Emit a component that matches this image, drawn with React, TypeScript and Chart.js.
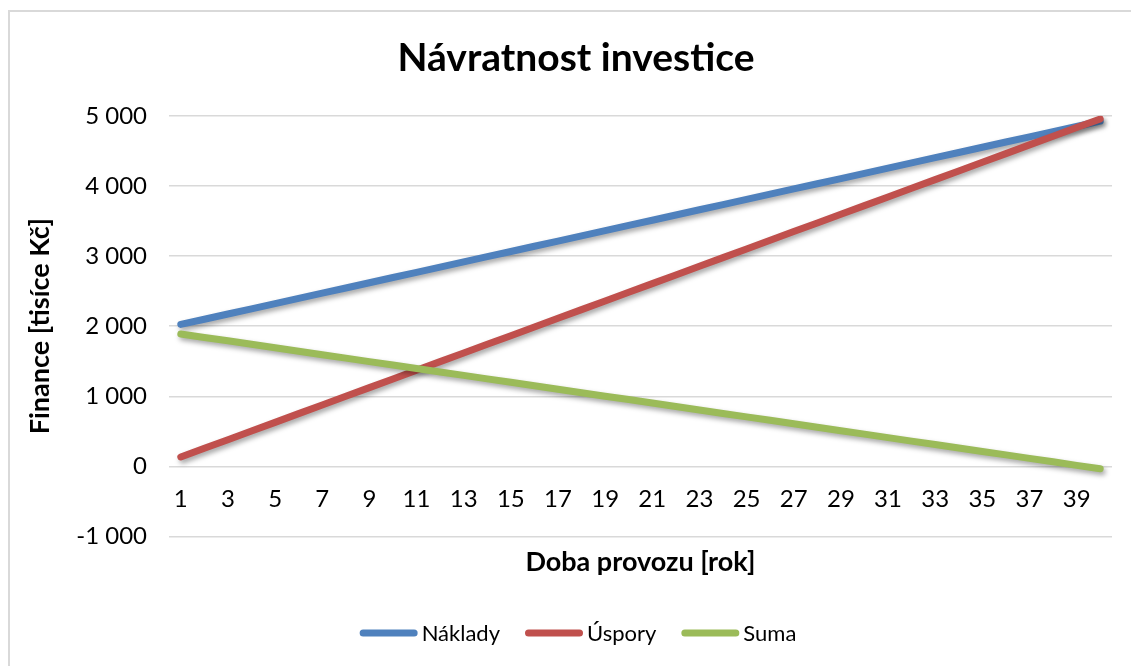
import React, { useEffect, useRef } from "react";
import { Chart, registerables } from "chart.js";

Chart.register(...registerables);

const years: string[] = [
  "1","2","3","4","5","6","7","8","9","10",
  "11","12","13","14","15","16","17","18","19","20",
  "21","22","23","24","25","26","27","28","29","30",
  "31","32","33","34","35","36","37","38","39","40",
];

const naklady: number[] = [
  2025, 2099, 2174, 2248, 2322, 2397, 2471, 2545, 2619, 2694,
  2768, 2842, 2917, 2991, 3065, 3140, 3214, 3288, 3362, 3437,
  3511, 3585, 3660, 3734, 3808, 3883, 3957, 4031, 4105, 4180,
  4254, 4328, 4403, 4477, 4551, 4626, 4700, 4774, 4848, 4923,
];

const uspory: number[] = [
  135, 259, 382, 506, 629, 753, 877, 1000, 1124, 1247,
  1371, 1495, 1618, 1742, 1865, 1989, 2113, 2236, 2360, 2483,
  2607, 2731, 2854, 2978, 3101, 3225, 3349, 3472, 3596, 3719,
  3843, 3967, 4090, 4214, 4337, 4461, 4585, 4708, 4832, 4955,
];

const suma: number[] = [
  1890, 1840, 1792, 1742, 1693, 1644, 1594, 1545, 1495, 1447,
  1397, 1347, 1299, 1249, 1200, 1151, 1101, 1052, 1002, 954,
  904, 854, 806, 756, 707, 658, 608, 559, 509, 461,
  411, 361, 313, 263, 214, 165, 115, 66, 16, -32,
];

const seriesNames: string[] = ["Náklady", "Úspory", "Suma"];
const seriesColors: string[] = ["#4F81BD", "#C0504D", "#9BBB59"];

const FONT = "Lato, 'Open Sans', sans-serif";

const fmt = (v: number) => {
  const s = Math.abs(v).toString().replace(/\B(?=(\d{3})+(?!\d))/g, " ");
  return (v < 0 ? "-" : "") + s;
};

const shadowPlugin = {
  id: "lineShadow",
  beforeDatasetsDraw(chart: any) {
    const c = chart.ctx;
    c.save();
    c.shadowColor = "rgba(0,0,0,0.35)";
    c.shadowBlur = 5;
    c.shadowOffsetX = 2;
    c.shadowOffsetY = 3;
  },
  afterDatasetsDraw(chart: any) {
    chart.ctx.restore();
  },
};

// Legend drawn in the Excel style: long rounded line, small gap, label.
const excelLegend = {
  id: "excelLegend",
  afterDraw(chart: any) {
    const c = chart.ctx;
    const lineLen = 58;
    const gap = 4;
    const itemGap = 25;
    const cx = 568;
    const cy = 621;
    c.save();
    c.font = `22px ${FONT}`;
    c.textBaseline = "middle";
    c.textAlign = "left";
    const widths = chart.data.datasets.map((ds: any) => c.measureText(ds.label).width);
    const total =
      widths.reduce((a: number, w: number) => a + lineLen + gap + w, 0) +
      itemGap * (widths.length - 1);
    let x = cx - total / 2;
    chart.data.datasets.forEach((ds: any, i: number) => {
      c.strokeStyle = ds.borderColor;
      c.lineWidth = 7;
      c.lineCap = "round";
      c.beginPath();
      c.moveTo(x + 3.5, cy);
      c.lineTo(x + lineLen - 3.5, cy);
      c.stroke();
      c.fillStyle = "#000";
      c.fillText(ds.label, x + lineLen + gap, cy + 1);
      x += lineLen + gap + widths[i] + itemGap;
    });
    c.restore();
  },
};

export default function App() {
  const ref = useRef<HTMLCanvasElement | null>(null);

  useEffect(() => {
    document.body.style.overflow = "hidden";
    if (!ref.current) return;
    const data = [naklady, uspory, suma];
    const chart = new Chart(ref.current, {
      type: "line",
      data: {
        labels: years,
        datasets: seriesNames.map((name, i) => ({
          label: name,
          data: data[i],
          borderColor: seriesColors[i],
          backgroundColor: seriesColors[i],
          borderWidth: 7,
          borderCapStyle: "round",
          borderJoinStyle: "round",
          pointRadius: 0,
          pointHoverRadius: 0,
          tension: 0,
          fill: false,
          order: 3 - i,
          xAxisID: "x",
          yAxisID: "y",
        })),
      },
      options: {
        animation: false,
        responsive: false,
        maintainAspectRatio: false,
        layout: { padding: { left: 0, right: 0, top: 0, bottom: 81 } },
        plugins: {
          title: {
            display: true,
            text: "Návratnost investice",
            color: "#000",
            font: { family: FONT, size: 39, weight: "bold" },
            padding: { top: 23, bottom: 34 },
          },
          legend: { display: false },
          tooltip: { enabled: false },
        },
        scales: {
          x: {
            type: "category",
            position: { y: 0 } as any,
            grid: { display: false, drawTicks: false },
            border: { display: false },
            ticks: {
              autoSkip: false,
              maxRotation: 0,
              minRotation: 0,
              padding: 18,
              color: "#000",
              font: { family: FONT, size: 24 },
              callback: (_v: any, idx: number) => (idx % 2 === 0 ? years[idx] : ""),
            },
            offset: true,
          },
          x2: {
            type: "category",
            position: "bottom",
            offset: true,
            grid: { display: false, drawTicks: false },
            border: { display: false },
            ticks: { display: false },
            title: {
              display: true,
              text: "Doba provozu [rok]",
              color: "#000",
              font: { family: FONT, size: 27, weight: "bold" },
              padding: { top: 9, bottom: 19 },
            },
          },
          y: {
            type: "linear",
            position: "left",
            min: -1000,
            max: 5000,
            grid: { color: "#d9d9d9", lineWidth: 1.5, drawTicks: false },
            border: { display: false },
            ticks: {
              stepSize: 1000,
              padding: 22,
              color: "#000",
              font: { family: FONT, size: 24 },
              callback: (v: any) => fmt(Number(v)),
            },
            title: {
              display: true,
              text: "Finance [tisíce Kč]",
              color: "#000",
              font: { family: FONT, size: 27, weight: "bold" },
              padding: { top: 14, bottom: 0 },
            },
            afterFit: (s: any) => {
              s.width = 159;
            },
          },
          yR: {
            type: "linear",
            position: "right",
            display: true,
            grid: { display: false, drawTicks: false },
            border: { display: false },
            ticks: { display: false },
            afterFit: (s: any) => {
              s.width = 30;
            },
          },
        },
      },
      plugins: [shadowPlugin, excelLegend],
    } as any);
    return () => chart.destroy();
  }, []);

  return (
    <div
      style={{
        position: "fixed",
        left: 8,
        top: 10,
        width: 1140,
        height: 670,
        border: "2px solid #d9d9d9",
        boxSizing: "border-box",
        background: "#fff",
      }}
    >
      <canvas ref={ref} width={1132} height={666} style={{ display: "block", width: 1132, height: 666 }} />
    </div>
  );
}
